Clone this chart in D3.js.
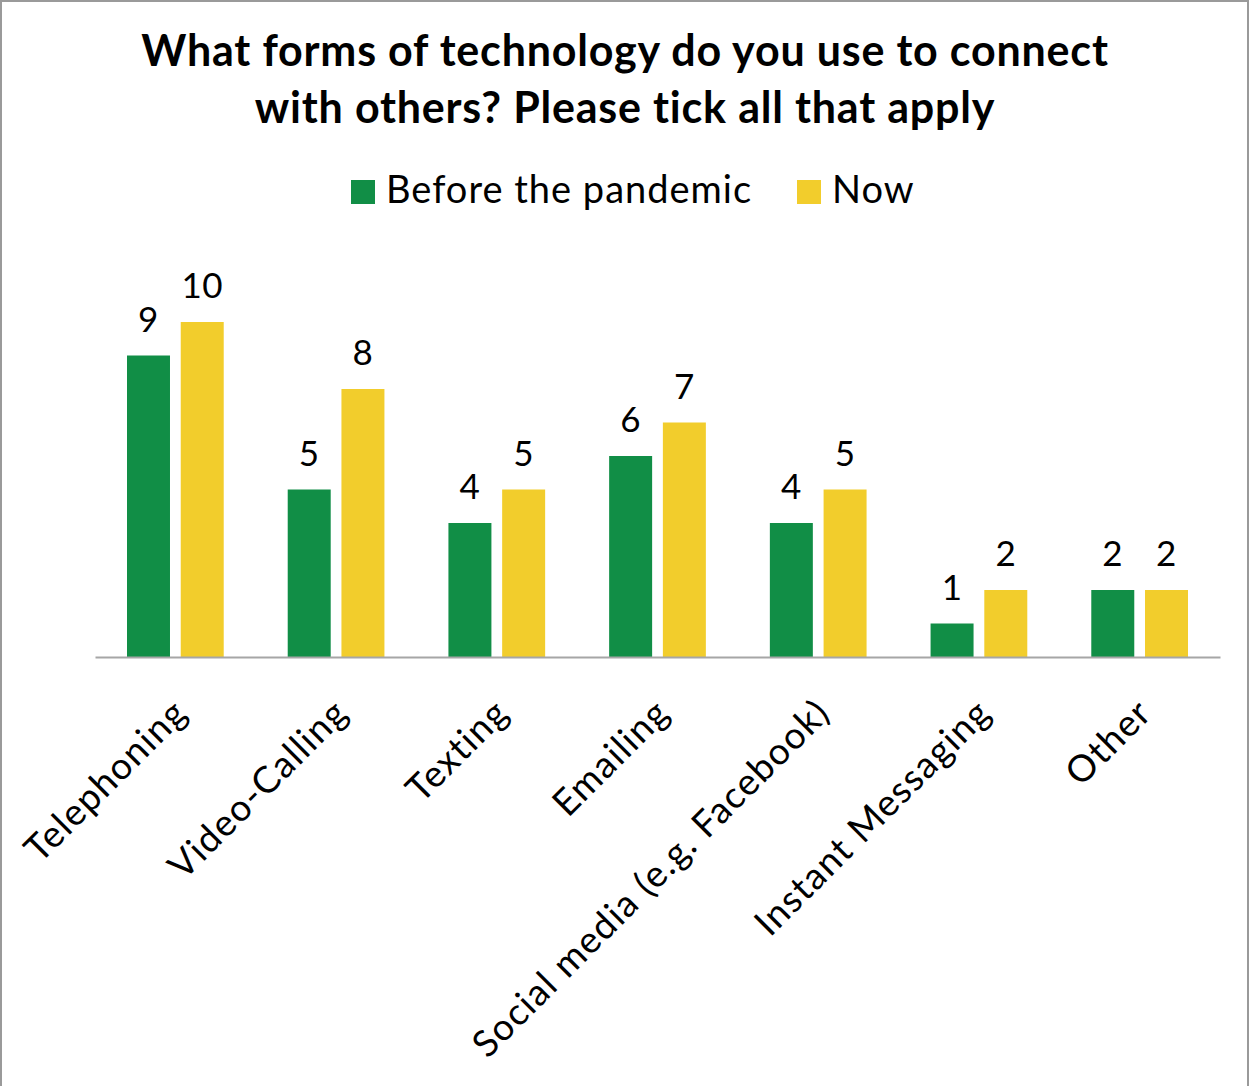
<!DOCTYPE html>
<html>
<head>
<meta charset="utf-8">
<script src="https://cdn.jsdelivr.net/npm/d3@7"></script>
<style>
  body { margin: 0; background: #fff; }
  text { font-family: Lato, "Open Sans", sans-serif; fill: #000; }
</style>
</head>
<body>
<div class="chart"></div>
<script>
const categories = ["Telephoning", "Video-Calling", "Texting", "Emailing",
  "Social media (e.g. Facebook)", "Instant Messaging", "Other"];
const series = ["Before the pandemic", "Now"];
const before = [9, 5, 4, 6, 4, 1, 2];
const now = [10, 8, 5, 7, 5, 2, 2];
const colors = ["#118E46", "#F2CD2C"];
const titleLines = ["What forms of technology do you use to connect",
  "with others? Please tick all that apply"];

const W = 1250, H = 1086;
const margin = {top: 322, left: 95, right: 30, bottom: 429};
const width = W - margin.left - margin.right,
  height = H - margin.top - margin.bottom;

const svg = d3.select('.chart')
  .append('svg')
  .attr('width', W)
  .attr('height', H);

// outer frame
svg.append('rect')
  .attr('x', 1).attr('y', 1)
  .attr('width', W - 3).attr('height', H + 5)
  .attr('fill', 'none')
  .attr('stroke', '#9a9a9a')
  .attr('stroke-width', 2);

const g = svg.append('g')
  .attr('transform', 'translate(' + margin.left + ',' + margin.top + ')');

const x0 = d3.scaleBand()
  .domain(categories)
  .range([0, width]);

const inset = 32;
const x1 = d3.scaleBand()
  .domain(series)
  .range([inset, x0.bandwidth() - inset])
  .paddingInner(0.2);

const y = d3.scaleLinear()
  .domain([0, 10])
  .range([height, 0]);

const rows = categories.map((c, i) => ({cat: c, vals: [before[i], now[i]]}));

const groups = g.selectAll('.grp')
  .data(rows)
  .enter().append('g')
  .attr('class', 'grp')
  .attr('transform', d => 'translate(' + x0(d.cat) + ',0)');

groups.selectAll('rect')
  .data(d => d.vals.map((v, j) => ({s: series[j], v: v, j: j})))
  .enter().append('rect')
  .attr('x', d => x1(d.s))
  .attr('y', d => y(d.v))
  .attr('width', x1.bandwidth())
  .attr('height', d => height - y(d.v))
  .attr('fill', d => colors[d.j]);

groups.selectAll('.val')
  .data(d => d.vals.map((v, j) => ({s: series[j], v: v})))
  .enter().append('text')
  .attr('class', 'val')
  .attr('x', d => x1(d.s) + x1.bandwidth() / 2)
  .attr('y', d => y(d.v) - 24)
  .attr('text-anchor', 'middle')
  .style('font-size', '35px')
  .style('letter-spacing', '0.5px')
  .text(d => d.v);

// x axis
const xAxis = d3.axisBottom(x0).tickSize(0).tickPadding(0);
const ax = g.append('g')
  .attr('class', 'axis x-axis')
  .attr('transform', 'translate(0,' + height + ')')
  .call(xAxis);
ax.select('.domain').attr('stroke', '#A6A6A6').attr('stroke-width', 2);
ax.selectAll('.tick text')
  .style('font-size', '37px')
  .style('letter-spacing', '1.3px')
  .style('font-family', 'Lato, sans-serif')
  .attr('fill', '#000')
  .attr('text-anchor', 'end')
  .attr('dy', 0)
  .attr('transform', 'translate(14,58) rotate(-45)');

// title
svg.append('g').selectAll('text')
  .data(titleLines)
  .enter().append('text')
  .attr('x', W / 2)
  .attr('y', (d, i) => 66 + i * 57)
  .attr('text-anchor', 'middle')
  .style('font-size', '43px')
  .style('letter-spacing', '0.8px')
  .style('font-weight', 'bold')
  .text(d => d);

// legend
const legend = svg.append('g').attr('transform', 'translate(351,180)');
const lx = [0, 446];
series.forEach((s, i) => {
  legend.append('rect')
    .attr('x', lx[i]).attr('y', 0)
    .attr('width', 24).attr('height', 24)
    .attr('fill', colors[i]);
  legend.append('text')
    .attr('x', lx[i] + 35).attr('y', 23)
    .style('font-size', '38px')
    .style('letter-spacing', '1px')
    .text(s);
});
</script>
</body>
</html>
